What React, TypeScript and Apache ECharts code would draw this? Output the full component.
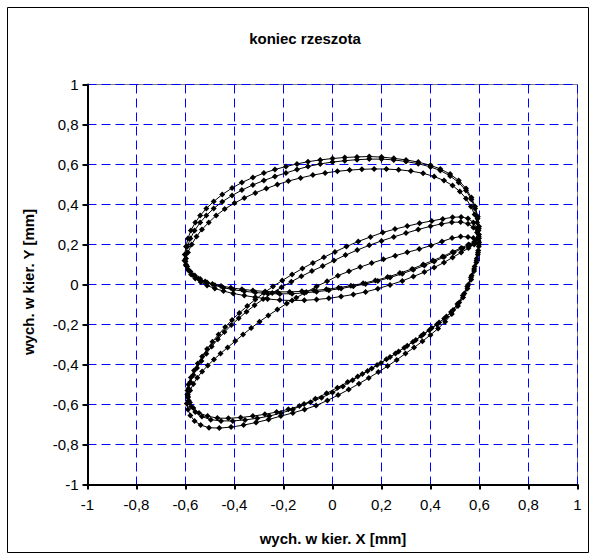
import React, { useEffect, useRef } from "react";
import * as echarts from "echarts";

const chartTitle = "koniec rzeszota";
const xAxisName = "wych. w kier. X [mm]";
const yAxisName = "wych. w kier. Y [mm]";
const axisMin = -1;
const axisMax = 1;
const axisStep = 0.2;

// Trace 1
const upperTop1 = [[0.597,0.25],[0.598,0.29],[0.593,0.34],[0.582,0.39],[0.567,0.435],[0.545,0.48],[0.515,0.52],[0.48,0.552],[0.44,0.578],[0.4,0.596],[0.35,0.612],[0.3,0.623],[0.25,0.631],[0.2,0.637],[0.15,0.64],[0.1,0.638],[0.05,0.635],[0.0,0.63],[-0.05,0.623],[-0.1,0.614],[-0.145,0.603],[-0.19,0.59],[-0.235,0.575],[-0.28,0.557],[-0.325,0.535],[-0.37,0.51],[-0.41,0.482],[-0.45,0.45],[-0.485,0.415],[-0.515,0.38],[-0.54,0.345],[-0.56,0.31],[-0.578,0.27],[-0.59,0.23],[-0.598,0.19],[-0.603,0.15]];
const upperBottom1 = [[-0.604,0.12],[-0.598,0.095],[-0.587,0.07],[-0.57,0.048],[-0.548,0.03],[-0.52,0.015],[-0.49,0.003],[-0.455,-0.007],[-0.415,-0.016],[-0.37,-0.024],[-0.325,-0.03],[-0.275,-0.035],[-0.225,-0.037],[-0.175,-0.037],[-0.125,-0.034],[-0.075,-0.03],[-0.025,-0.024],[0.025,-0.016],[0.075,-0.006],[0.125,0.006],[0.175,0.02],[0.225,0.037],[0.275,0.057],[0.325,0.078],[0.37,0.1],[0.41,0.12],[0.45,0.14],[0.49,0.163],[0.525,0.183],[0.555,0.2],[0.578,0.212],[0.593,0.22]];
const lowerBottom1 = [[0.598,0.21],[0.595,0.17],[0.589,0.13],[0.58,0.09],[0.568,0.045],[0.555,0.0],[0.538,-0.045],[0.517,-0.09],[0.492,-0.128],[0.465,-0.16],[0.435,-0.19],[0.405,-0.218],[0.372,-0.248],[0.34,-0.277],[0.305,-0.306],[0.27,-0.335],[0.235,-0.363],[0.198,-0.392],[0.16,-0.42],[0.122,-0.448],[0.082,-0.479],[0.042,-0.51],[0.0,-0.54],[-0.045,-0.566],[-0.09,-0.589],[-0.135,-0.608],[-0.18,-0.624],[-0.228,-0.638],[-0.276,-0.649],[-0.325,-0.658],[-0.375,-0.665],[-0.425,-0.669],[-0.47,-0.668],[-0.51,-0.658],[-0.545,-0.642],[-0.568,-0.618],[-0.582,-0.59],[-0.59,-0.56]];
const lowerTop1 = [[-0.592,-0.53],[-0.588,-0.5],[-0.578,-0.465],[-0.565,-0.43],[-0.55,-0.395],[-0.532,-0.36],[-0.512,-0.323],[-0.49,-0.286],[-0.465,-0.25],[-0.438,-0.213],[-0.41,-0.177],[-0.38,-0.142],[-0.348,-0.108],[-0.315,-0.075],[-0.28,-0.042],[-0.243,-0.01],[-0.205,0.02],[-0.165,0.05],[-0.123,0.08],[-0.08,0.108],[-0.035,0.136],[0.01,0.163],[0.057,0.19],[0.105,0.215],[0.155,0.238],[0.205,0.26],[0.255,0.277],[0.305,0.292],[0.355,0.306],[0.405,0.318],[0.45,0.328],[0.49,0.336],[0.525,0.338],[0.553,0.33],[0.575,0.31],[0.59,0.28],[0.597,0.25]];

// Trace 2
const upperTop2 = [[0.597,0.24],[0.597,0.28],[0.592,0.33],[0.582,0.38],[0.567,0.425],[0.545,0.47],[0.515,0.51],[0.48,0.543],[0.44,0.57],[0.4,0.588],[0.35,0.604],[0.3,0.615],[0.25,0.623],[0.2,0.627],[0.15,0.627],[0.1,0.624],[0.05,0.619],[0.0,0.612],[-0.05,0.603],[-0.1,0.59],[-0.145,0.575],[-0.19,0.558],[-0.235,0.54],[-0.28,0.52],[-0.325,0.498],[-0.37,0.472],[-0.41,0.445],[-0.45,0.414],[-0.485,0.38],[-0.515,0.345],[-0.54,0.31],[-0.563,0.27],[-0.58,0.23],[-0.592,0.19],[-0.6,0.15]];
const upperBottom2 = [[-0.6,0.115],[-0.593,0.09],[-0.58,0.065],[-0.562,0.045],[-0.54,0.028],[-0.512,0.01],[-0.48,-0.004],[-0.445,-0.016],[-0.405,-0.026],[-0.36,-0.034],[-0.315,-0.04],[-0.265,-0.045],[-0.215,-0.047],[-0.165,-0.046],[-0.115,-0.042],[-0.065,-0.036],[-0.015,-0.029],[0.035,-0.02],[0.085,-0.009],[0.135,0.003],[0.185,0.018],[0.235,0.035],[0.285,0.054],[0.33,0.074],[0.375,0.095],[0.415,0.115],[0.455,0.137],[0.495,0.16],[0.53,0.18],[0.56,0.197],[0.582,0.21],[0.595,0.218]];
const lowerBottom2 = [[0.598,0.2],[0.594,0.16],[0.588,0.12],[0.578,0.078],[0.565,0.035],[0.55,-0.01],[0.532,-0.055],[0.51,-0.098],[0.484,-0.137],[0.456,-0.17],[0.426,-0.2],[0.395,-0.229],[0.362,-0.258],[0.328,-0.287],[0.293,-0.316],[0.257,-0.345],[0.22,-0.374],[0.182,-0.403],[0.143,-0.432],[0.103,-0.46],[0.062,-0.488],[0.02,-0.516],[-0.024,-0.544],[-0.07,-0.571],[-0.116,-0.598],[-0.162,-0.625],[-0.21,-0.643],[-0.258,-0.658],[-0.307,-0.669],[-0.357,-0.677],[-0.407,-0.682],[-0.455,-0.682],[-0.497,-0.676],[-0.533,-0.66],[-0.56,-0.638],[-0.577,-0.61],[-0.587,-0.58],[-0.591,-0.55]];
const lowerTop2 = [[-0.592,-0.55],[-0.588,-0.52],[-0.58,-0.487],[-0.568,-0.452],[-0.553,-0.417],[-0.535,-0.382],[-0.515,-0.346],[-0.493,-0.31],[-0.468,-0.274],[-0.441,-0.238],[-0.413,-0.203],[-0.383,-0.169],[-0.351,-0.136],[-0.318,-0.104],[-0.283,-0.073],[-0.246,-0.043],[-0.208,-0.014],[-0.168,0.014],[-0.127,0.041],[-0.084,0.067],[-0.04,0.092],[0.006,0.12],[0.053,0.147],[0.101,0.172],[0.15,0.196],[0.2,0.218],[0.25,0.238],[0.3,0.257],[0.35,0.275],[0.4,0.291],[0.445,0.303],[0.487,0.311],[0.523,0.312],[0.553,0.304],[0.575,0.285],[0.59,0.26],[0.597,0.232]];

// Trace 3
const upperTop3 = [[0.597,0.23],[0.596,0.27],[0.59,0.31],[0.58,0.35],[0.565,0.39],[0.545,0.43],[0.52,0.465],[0.49,0.495],[0.455,0.52],[0.415,0.54],[0.37,0.556],[0.32,0.567],[0.27,0.574],[0.22,0.577],[0.17,0.578],[0.12,0.576],[0.07,0.572],[0.02,0.566],[-0.03,0.558],[-0.08,0.547],[-0.13,0.533],[-0.18,0.517],[-0.225,0.5],[-0.27,0.48],[-0.315,0.458],[-0.36,0.433],[-0.4,0.407],[-0.44,0.377],[-0.475,0.345],[-0.505,0.31],[-0.533,0.275],[-0.555,0.24],[-0.575,0.2],[-0.59,0.16],[-0.598,0.13]];
const upperBottom3 = [[-0.598,0.1],[-0.59,0.075],[-0.577,0.05],[-0.56,0.03],[-0.538,0.012],[-0.512,-0.005],[-0.48,-0.02],[-0.445,-0.033],[-0.405,-0.045],[-0.36,-0.055],[-0.315,-0.064],[-0.265,-0.072],[-0.215,-0.078],[-0.165,-0.08],[-0.115,-0.079],[-0.065,-0.075],[-0.015,-0.069],[0.035,-0.06],[0.085,-0.05],[0.135,-0.037],[0.185,-0.021],[0.235,-0.002],[0.285,0.018],[0.33,0.04],[0.375,0.062],[0.415,0.085],[0.455,0.11],[0.49,0.135],[0.525,0.16],[0.555,0.182],[0.578,0.2],[0.593,0.212]];
const lowerBottom3 = [[0.597,0.19],[0.593,0.15],[0.587,0.11],[0.578,0.068],[0.566,0.025],[0.551,-0.02],[0.533,-0.065],[0.512,-0.108],[0.487,-0.148],[0.46,-0.186],[0.431,-0.22],[0.4,-0.252],[0.367,-0.284],[0.333,-0.315],[0.298,-0.345],[0.262,-0.377],[0.225,-0.408],[0.187,-0.438],[0.148,-0.467],[0.108,-0.496],[0.066,-0.525],[0.023,-0.553],[-0.021,-0.58],[-0.067,-0.605],[-0.114,-0.625],[-0.162,-0.642],[-0.211,-0.658],[-0.261,-0.675],[-0.312,-0.69],[-0.363,-0.703],[-0.414,-0.713],[-0.462,-0.718],[-0.504,-0.716],[-0.538,-0.703],[-0.563,-0.682],[-0.58,-0.655],[-0.59,-0.625],[-0.594,-0.595]];
const lowerTop3 = [[-0.594,-0.595],[-0.59,-0.565],[-0.581,-0.53],[-0.568,-0.497],[-0.552,-0.466],[-0.532,-0.435],[-0.509,-0.405],[-0.484,-0.375],[-0.457,-0.345],[-0.428,-0.315],[-0.397,-0.283],[-0.365,-0.25],[-0.332,-0.218],[-0.298,-0.186],[-0.262,-0.155],[-0.225,-0.125],[-0.187,-0.095],[-0.148,-0.066],[-0.107,-0.038],[-0.065,-0.01],[-0.022,0.016],[0.022,0.044],[0.067,0.066],[0.113,0.087],[0.16,0.107],[0.208,0.126],[0.256,0.144],[0.305,0.161],[0.354,0.177],[0.402,0.195],[0.447,0.215],[0.488,0.232],[0.523,0.24],[0.553,0.238],[0.575,0.232],[0.589,0.225],[0.596,0.218]];

const traces = [
  [...upperTop1, ...upperBottom1, ...lowerBottom1, ...lowerTop1],
  [...upperTop2, ...upperBottom2, ...lowerBottom2, ...lowerTop2],
  [...upperTop3, ...upperBottom3, ...lowerBottom3, ...lowerTop3],
];

const FONT = '"Liberation Sans", Arial, sans-serif';

function fmt(v: number) {
  return String(Math.round(v * 10) / 10).replace(".", ",");
}

export default function App() {
  const ref = useRef<HTMLDivElement>(null);
  useEffect(() => {
    document.body.style.margin = "0";
    const chart = echarts.init(ref.current!, null, { renderer: "svg" });
    const axisCommon = {
      type: "value",
      min: axisMin,
      max: axisMax,
      interval: axisStep,
      axisLine: { show: true, onZero: false, lineStyle: { color: "#000", width: 2 } },
      axisTick: { show: true, length: 5, lineStyle: { color: "#000", width: 2 } },
      splitLine: { show: true, lineStyle: { color: "#0000ff", width: 1, type: [9, 5] } },
    };
    chart.setOption({
      animation: false,
      backgroundColor: "#fff",
      grid: {
        left: 87.5,
        top: 84.5,
        width: 490,
        height: 400,
        show: true,
        borderColor: "#808080",
        borderWidth: 1,
        backgroundColor: "transparent",
      },
      xAxis: {
        ...axisCommon,
        axisLabel: { margin: 12, color: "#000", fontFamily: FONT, fontSize: 15, formatter: fmt },
      },
      yAxis: {
        ...axisCommon,
        axisLabel: { margin: 9, color: "#000", fontFamily: FONT, fontSize: 15, formatter: fmt },
      },
      series: traces.map((t, i) => ({
        name: "trace" + (i + 1),
        type: "line",
        data: t,
        showSymbol: true,
        symbol: "diamond",
        symbolSize: 6,
        lineStyle: { color: "#000", width: 1 },
        itemStyle: { color: "#000" },
        z: 5,
      })),
      graphic: [
        {
          type: "rect",
          shape: { x: 7.5, y: 7.5, width: 581, height: 545 },
          style: { fill: "none", stroke: "#000", lineWidth: 1 },
          silent: true,
        },
        {
          type: "text",
          x: 305,
          y: 38,
          style: { text: chartTitle, font: `bold 15px ${FONT}`, fill: "#000", align: "center", verticalAlign: "middle" },
        },
        {
          type: "text",
          x: 333,
          y: 538,
          style: { text: xAxisName, font: `bold 15px ${FONT}`, fill: "#000", align: "center", verticalAlign: "middle" },
        },
        {
          type: "text",
          x: 28,
          y: 282,
          rotation: Math.PI / 2,
          style: { text: yAxisName, font: `bold 15px ${FONT}`, fill: "#000", align: "center", verticalAlign: "middle" },
        },
      ],
    });
    return () => chart.dispose();
  }, []);
  return (
    <div
      ref={ref}
      style={{ width: 596, height: 560, position: "absolute", left: 0, top: 0, background: "#fff" }}
    />
  );
}
